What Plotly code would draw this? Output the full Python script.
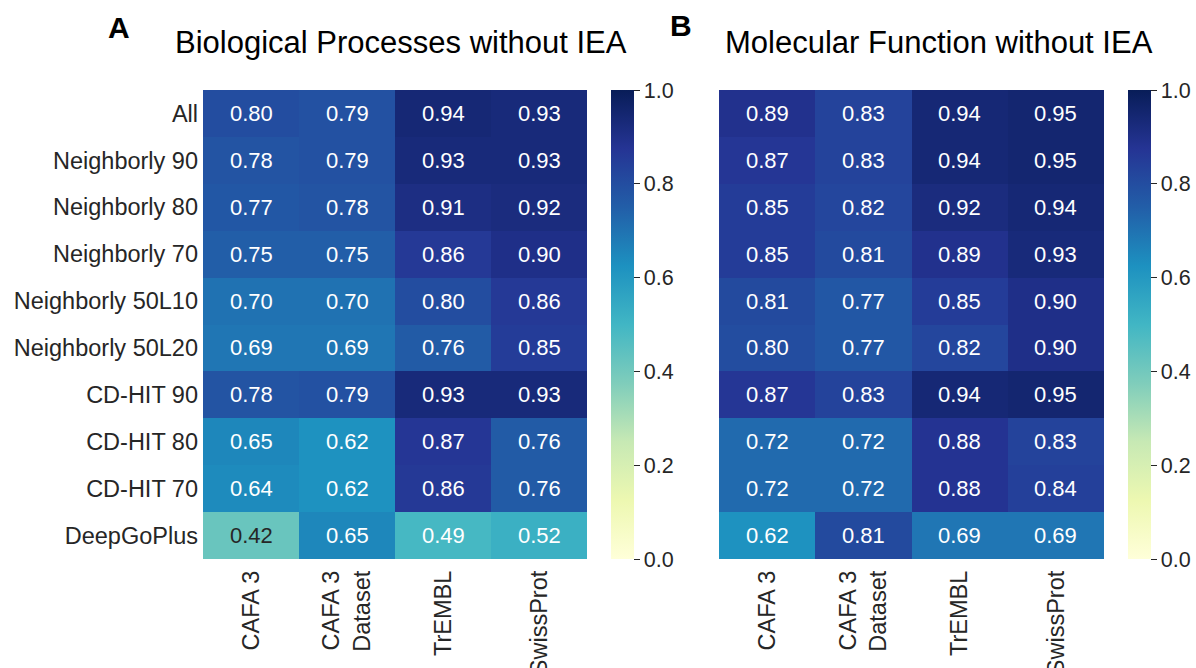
import plotly.graph_objects as go

# ---- data -------------------------------------------------------------
row_labels = ["All", "Neighborly 90", "Neighborly 80", "Neighborly 70",
              "Neighborly 50L10", "Neighborly 50L20", "CD-HIT 90",
              "CD-HIT 80", "CD-HIT 70", "DeepGoPlus"]
col_labels = ["CAFA 3", "CAFA 3<br>Dataset", "TrEMBL", "SwissProt"]

bp_values = [
    [0.80, 0.79, 0.94, 0.93],
    [0.78, 0.79, 0.93, 0.93],
    [0.77, 0.78, 0.91, 0.92],
    [0.75, 0.75, 0.86, 0.90],
    [0.70, 0.70, 0.80, 0.86],
    [0.69, 0.69, 0.76, 0.85],
    [0.78, 0.79, 0.93, 0.93],
    [0.65, 0.62, 0.87, 0.76],
    [0.64, 0.62, 0.86, 0.76],
    [0.42, 0.65, 0.49, 0.52],
]
mf_values = [
    [0.89, 0.83, 0.94, 0.95],
    [0.87, 0.83, 0.94, 0.95],
    [0.85, 0.82, 0.92, 0.94],
    [0.85, 0.81, 0.89, 0.93],
    [0.81, 0.77, 0.85, 0.90],
    [0.80, 0.77, 0.82, 0.90],
    [0.87, 0.83, 0.94, 0.95],
    [0.72, 0.72, 0.88, 0.83],
    [0.72, 0.72, 0.88, 0.84],
    [0.62, 0.81, 0.69, 0.69],
]
colorbar_ticks = [0.0, 0.2, 0.4, 0.6, 0.8, 1.0]

# ---- styling ----------------------------------------------------------
W, H = 1196, 668
FONT = "Arial, 'Liberation Sans', sans-serif"
TICK_COLOR = "#262626"
YLGNBU = ["#ffffd9", "#edf8b1", "#c7e9b4", "#7fcdbb", "#41b6c4",
          "#1d91c0", "#225ea8", "#253494", "#081d58"]
colorscale = [[i / (len(YLGNBU) - 1), c] for i, c in enumerate(YLGNBU)]


def px_x(v):
    return v / W


def px_y(v):
    return 1 - v / H


def cell_rgb(v):
    pos = v * (len(YLGNBU) - 1)
    i = min(int(pos), len(YLGNBU) - 2)
    t = pos - i
    a = [int(YLGNBU[i][k:k + 2], 16) for k in (1, 3, 5)]
    b = [int(YLGNBU[i + 1][k:k + 2], 16) for k in (1, 3, 5)]
    return [a[j] + (b[j] - a[j]) * t for j in range(3)]


def text_color(v):
    r, g, b = [c / 255 for c in cell_rgb(v)]
    lin = [c / 12.92 if c <= 0.03928 else ((c + 0.055) / 1.055) ** 2.4 for c in (r, g, b)]
    lum = 0.2126 * lin[0] + 0.7152 * lin[1] + 0.0722 * lin[2]
    return "#262626" if lum > 0.408 else "white"


top, bottom = 90, 559
panels = [
    dict(z=bp_values, x0=203, x1=587, cb=611, xa="x", ya="y",
         title="Biological Processes without IEA", tx=401, letter="A", lx=119, ly=27),
    dict(z=mf_values, x0=719, x1=1104, cb=1128, xa="x2", ya="y2",
         title="Molecular Function without IEA", tx=939, letter="B", lx=681, ly=25),
]

fig = go.Figure()
annotations = []
for idx, p in enumerate(panels):
    fig.add_trace(go.Heatmap(
        z=p["z"], x=col_labels, y=row_labels,
        xaxis=p["xa"], yaxis=p["ya"],
        zmin=0, zmax=1, colorscale=colorscale,
        hoverongaps=False,
        colorbar=dict(
            xref="paper", yref="paper",
            x=px_x(p["cb"]), xanchor="left",
            y=px_y(top), yanchor="top",
            lenmode="pixels", len=bottom - top,
            thickness=23, outlinewidth=0,
            tickvals=colorbar_ticks, tickformat=".1f",
            ticks="outside", ticklen=6, tickwidth=1, tickcolor=TICK_COLOR,
            tickfont=dict(family=FONT, size=21.5, color=TICK_COLOR),
            xpad=0, ypad=0,
        ),
    ))
    for ri, row in enumerate(p["z"]):
        for ci, v in enumerate(row):
            annotations.append(dict(
                x=col_labels[ci], y=row_labels[ri],
                xref=p["xa"], yref=p["ya"],
                text=f"{v:.2f}", showarrow=False,
                font=dict(family=FONT, size=22, color=text_color(v)),
            ))
    annotations.append(dict(
        x=px_x(p["tx"]), y=px_y(43), xref="paper", yref="paper",
        xanchor="center", yanchor="middle", showarrow=False,
        text=p["title"], font=dict(family=FONT, size=31, color="black"),
    ))
    annotations.append(dict(
        x=px_x(p["lx"]), y=px_y(p["ly"]), xref="paper", yref="paper",
        xanchor="center", yanchor="middle", showarrow=False,
        text=f"<b>{p['letter']}</b>", font=dict(family=FONT, size=30, color="black"),
    ))

axis_common = dict(showgrid=False, zeroline=False, showline=False,
                   ticks="", automargin=False,
                   tickfont=dict(family=FONT, size=23.5, color=TICK_COLOR))

fig.update_layout(
    width=W, height=H,
    margin=dict(l=0, r=0, t=0, b=0),
    paper_bgcolor="white", plot_bgcolor="white",
    annotations=annotations,
    xaxis=dict(domain=[px_x(203), px_x(587)], anchor="y", tickangle=-90,
               ticklabelstandoff=6, **axis_common),
    yaxis=dict(domain=[px_y(bottom), px_y(top)], anchor="x", autorange="reversed",
               ticklabelstandoff=4, **axis_common),
    xaxis2=dict(domain=[px_x(719), px_x(1104)], anchor="y2", tickangle=-90,
                ticklabelstandoff=6, **axis_common),
    yaxis2=dict(domain=[px_y(bottom), px_y(top)], anchor="x2", autorange="reversed",
                showticklabels=False, **axis_common),
)

fig.write_html("out.html")
